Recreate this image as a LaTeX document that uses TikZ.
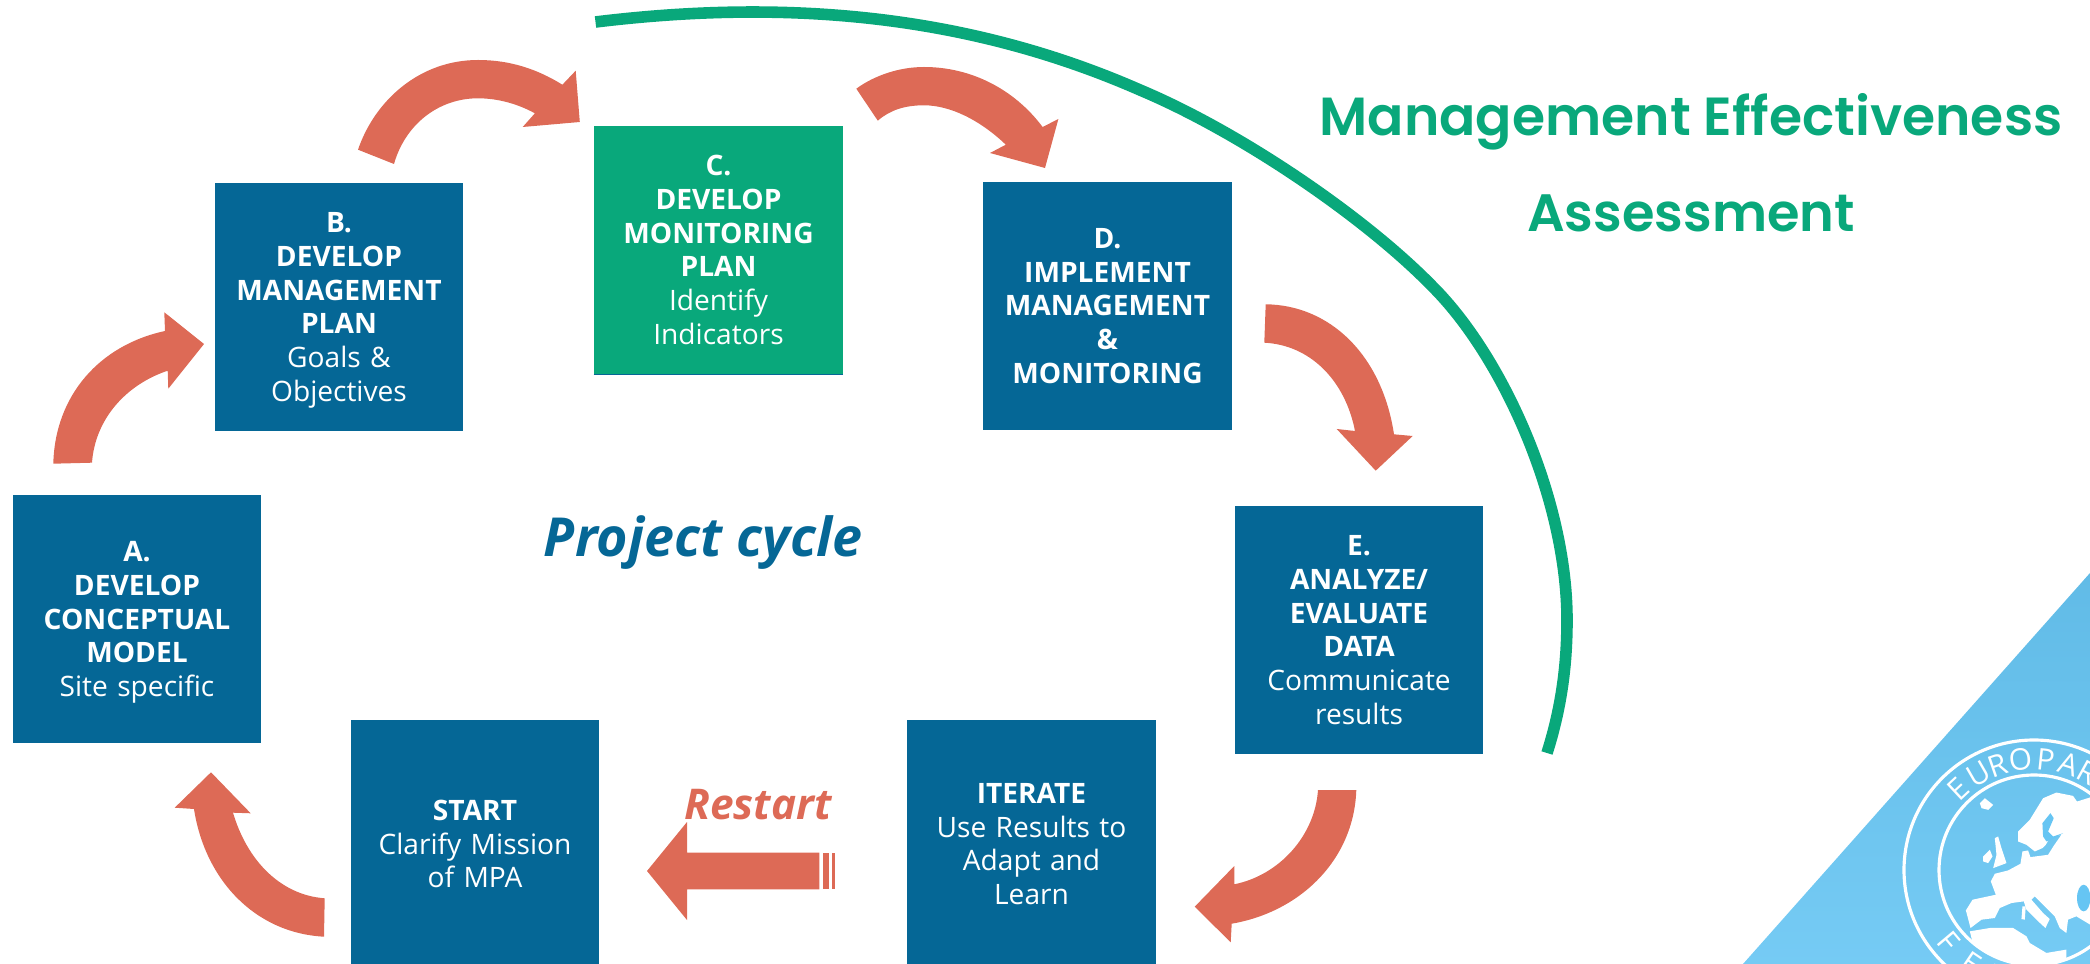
\documentclass[tikz,border=0pt]{standalone}
\usepackage{fontspec}
\setmainfont{Open Sans}
\newfontfamily\titlefont{Poppins SemiBold}
\definecolor{boxblue}{HTML}{056796}
\definecolor{boxgreen}{HTML}{09A87B}
\definecolor{salmon}{HTML}{DD6A56}
\definecolor{logoblue}{HTML}{66C5F3}
\tikzset{
  stagebox/.style={minimum width=2.48cm,minimum height=2.48cm,inner sep=0pt,text=white,align=center,text width=2.44cm,font=\fontsize{8}{9.6}\selectfont},
  bluebox/.style={stagebox,fill=boxblue},
  greenbox/.style={stagebox,fill=boxgreen},
  blockarrow/.style={fill=salmon},
  ringletter/.style={text=white,inner sep=0pt,font=\fontsize{8.5}{9}\selectfont},
}
\begin{document}
\begin{tikzpicture}[x=0.01cm,y=-0.01cm]
\useasboundingbox (0,0) rectangle (2090,964);
\clip (0,0) rectangle (2090,964);
% logo
\shade[top color=logoblue!95!black,bottom color=logoblue!90!white] (2090,573) -- (1743,964) -- (2090,964) -- cycle;
\begin{scope}
  \clip (2034,870) circle (95);
  \begin{scope}[shift={(1880,720)},x=0.00333cm,y=-0.00333cm]
    \fill[white] (258,572) -- (278,540) -- (348,525) -- (333,485) -- (345,462) -- (385,452) -- (422,432) -- (428,395) -- (445,392) -- (452,412) -- (505,405) -- (522,378) -- (545,345) -- (510,355) -- (498,375) -- (488,385) -- (465,395) -- (440,375) -- (415,365) -- (415,335) -- (450,300) -- (490,235) -- (530,218) -- (580,228) -- (592,245) -- (640,230) -- (640,620) -- (590,590) -- (565,600) -- (560,640) -- (540,625) -- (525,590) -- (495,560) -- (465,530) -- (455,540) -- (490,580) -- (510,598) -- (497,625) -- (470,600) -- (440,570) -- (432,545) -- (395,550) -- (360,565) -- (345,595) -- (305,600) -- (272,625) -- cycle;
    \fill[logoblue] (512,280) -- (522,295) -- (505,335) -- (520,350) -- (550,340) -- (520,358) -- (500,365) -- (490,350) -- (488,310) -- cycle;
    \fill[logoblue] (612,535) ellipse (20 and 40);
    \fill[white] (270,635) -- (330,625) -- (400,625) -- (440,650) -- (450,670) -- (500,700) -- (560,690) -- (560,760) -- (300,760) -- cycle;
    \fill[white] (300,250) -- (315,235) -- (340,255) -- (325,270) -- (305,265) -- cycle;
    \fill[white] (345,355) -- (355,350) -- (365,385) -- (380,430) -- (340,445) -- (350,405) -- cycle;
    \fill[white] (310,410) -- (330,390) -- (338,410) -- (325,430) -- (310,425) -- cycle;
    \fill[white] (428,560) -- (438,560) -- (435,600) -- (425,598) -- cycle;
  \end{scope}
\end{scope}
\draw[white,line width=0.9pt] (2034,870) circle (130) (2034,870) circle (95);
\foreach \l/\a in {E/133,U/120,R/109,O/97,P/84,A/72,R/61,C/49}
  \node[ringletter,rotate=\a-90] at ({2034+111*cos(\a)},{870-111*sin(\a)}) {\l};
\foreach \l/\a in {F/220,E/236,D/252}
  \node[ringletter,rotate=\a-270] at ({2034+112*cos(\a)},{870-112*sin(\a)}) {\l};
% arc
\draw[boxgreen,line width=3.3pt] (595.5,22) .. controls (776,0) and (960,11) .. (1140,90) .. controls (1240,132) and (1365,217) .. (1433,287) .. controls (1503,357) and (1567,500) .. (1567,620) .. controls (1567,670) and (1560,712) .. (1547,753);
% boxes
\node[bluebox] (a) at (137,619) {\textbf{A.}\\\textbf{DEVELOP}\\\textbf{CONCEPTUAL}\\\textbf{MODEL}\\\smash{Site specific}};
\node[bluebox] (b) at (339,307) {\textbf{B.}\\\textbf{DEVELOP}\\\textbf{MANAGEMENT}\\\textbf{PLAN}\\Goals \&\\\smash{Objectives}};
\node[greenbox] (c) at (718.5,250) {\textbf{C.}\\\textbf{DEVELOP}\\\textbf{MONITORING}\\\textbf{PLAN}\\Identify\\Indicators};
\draw[boxblue,line width=0.3pt] (c.south west) -- (c.south east);
\node[bluebox] (d) at (1107.5,306) {\textbf{D.}\\\textbf{IMPLEMENT}\\\textbf{MANAGEMENT}\\\textbf{\&}\\\textbf{MONITORING}};
\node[bluebox] (e) at (1359,630) {\textbf{E.}\\\textbf{ANALYZE/}\\\textbf{EVALUATE}\\\textbf{DATA}\\Communicate\\results};
\node[bluebox] (iterate) at (1031.5,844) {\textbf{ITERATE}\\Use Results to\\Adapt and\\Learn};
\node[bluebox] (start) at (475,844) {\textbf{START}\\Clarify Mission\\of MPA};
% curved block arrows
\fill[blockarrow] (53.3,463.7) .. controls (55,395) and (100,345) .. (165,331) -- (164.3,312.3) -- (204,344) -- (168.3,388.7) -- (167.7,370.7) .. controls (125,385) and (95,420) .. (92,462.7) -- cycle;
\fill[blockarrow] (358,149.7) .. controls (375,100) and (420,60) .. (478,60) .. controls (510,60) and (537,69) .. (562.4,84.7) -- (575.7,70.7) -- (579.8,122) -- (522.7,127) -- (534.9,113.3) .. controls (518,104) and (498,98.3) .. (478,98.3) .. controls (438,98.3) and (405,125) .. (394,164) -- cycle;
\fill[blockarrow] (856.3,88.7) .. controls (875,75) and (900,67) .. (924,67) .. controls (972,67) and (1015,90) .. (1042.6,127) -- (1058.4,119) -- (1045,168) -- (990,153) -- (1005.8,144.7) .. controls (980,120) and (950,105.3) .. (924,105.3) .. controls (905,105.3) and (890,110) .. (877.8,120.7) -- cycle;
\fill[blockarrow] (1265.7,304.3) .. controls (1330,305) and (1382,355) .. (1394,434.3) -- (1412.7,436) -- (1375.7,470.7) -- (1336.7,429) -- (1355,431) .. controls (1345,380) and (1310,345) .. (1264.3,342.7) -- cycle;
\fill[blockarrow] (1356.3,790) .. controls (1354,860) and (1300,912) .. (1231.7,923.7) -- (1230.7,942.3) -- (1194.7,906.7) -- (1234.3,866) -- (1234.3,884.3) .. controls (1280,875) and (1315,835) .. (1318,790) -- cycle;
\fill[blockarrow] (324,936.7) .. controls (255,933) and (205,880) .. (194,809) -- (174.7,807.7) -- (211,772.3) -- (250.7,813.3) -- (233,812.7) .. controls (247,860) and (280,895) .. (324.7,898.3) -- cycle;
% restart arrow
\fill[blockarrow] (647,871) -- (687,822) -- (687,852.7) -- (819.3,852.7) -- (819.3,889.3) -- (687,889.3) -- (687,920) -- cycle;
\fill[blockarrow] (822.7,852.7) rectangle (829,889.3);
\fill[blockarrow] (832,852.7) rectangle (835,889.3);
% labels
\node[anchor=base,text=salmon,font=\fontsize{12.05}{14}\selectfont\bfseries\itshape,inner sep=0pt] (restart) at (758,820) {Restart};
\node[anchor=base,text=boxblue,font=\fontsize{15.3}{18}\selectfont\bfseries\itshape,inner sep=0pt] (cycle) at (703,557) {Project cycle};
\node[anchor=base,text=boxgreen,font=\fontsize{15.25}{18}\titlefont,inner sep=0pt] (t1) at (1691,136) {Management Effectiveness};
\node[anchor=base,text=boxgreen,font=\fontsize{14.96}{18}\titlefont,inner sep=0pt] (t2) at (1691,232) {Assessment};
\end{tikzpicture}
\end{document}
